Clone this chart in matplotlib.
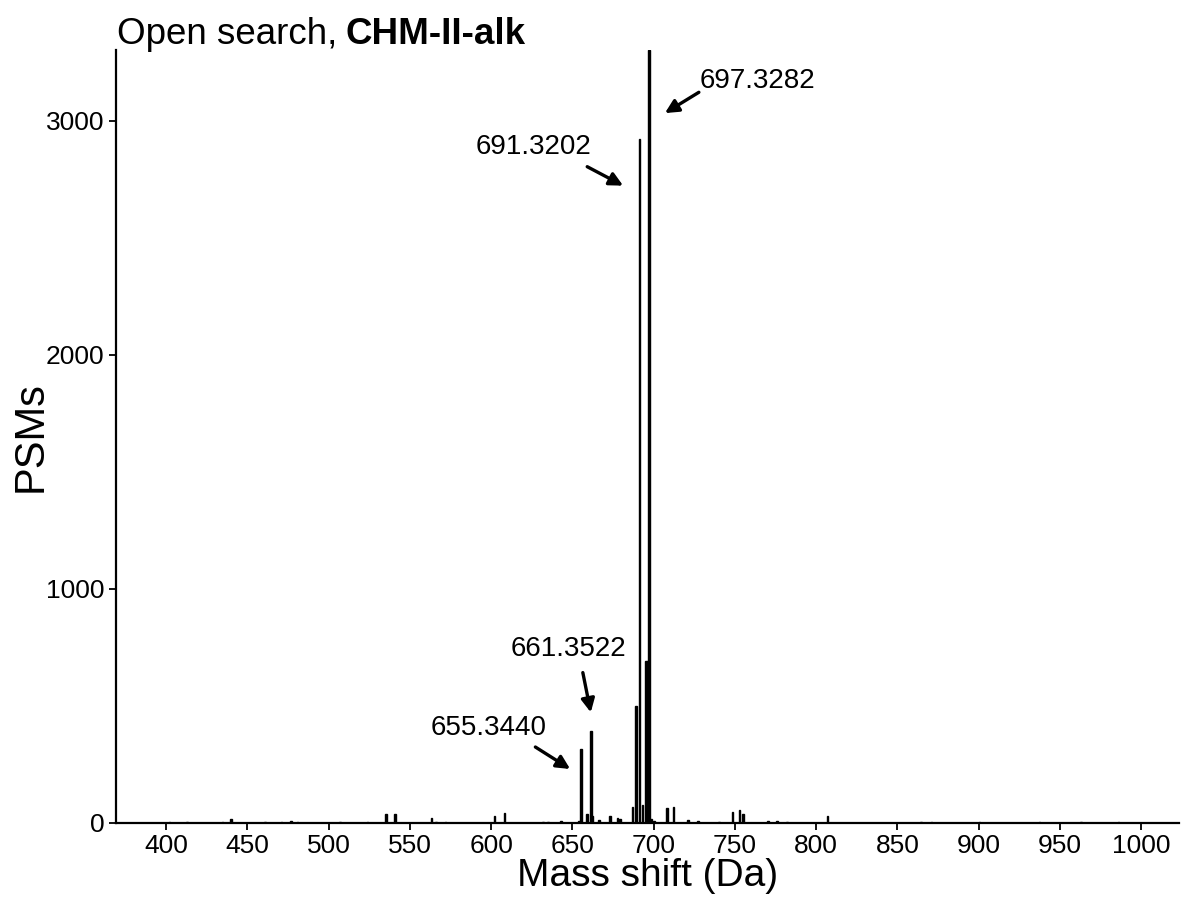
import matplotlib.pyplot as plt

plt.rcParams['font.family'] = ['Liberation Sans', 'DejaVu Sans']

# mass shift bins (Da) and PSM counts
mass = [402, 412.8, 434.8, 440, 461, 471, 476.7, 480.8, 506.8, 524,
        535.2, 541, 563.2, 566.2, 572, 602, 608.3, 632, 635, 643,
        654, 655.3, 659, 661.3, 662.3, 666.5, 673, 677.8, 679.2,
        687, 689.3, 691.3, 693.2, 695.3, 696.3, 697.3, 698.5, 700.2,
        708, 712.2, 721.3, 727.4, 740, 748.6, 752.8, 755,
        770.4, 775.7, 782, 807, 864.6, 870.9, 900.5, 937.5, 963, 986]
psms = [3, 3, 4, 15, 3, 3, 6, 3, 3, 3,
        36, 36, 19, 4, 3, 29, 39, 3, 3, 5,
        8, 314, 38, 392, 30, 12, 30, 20, 15,
        65, 500, 2920, 77, 690, 690, 3300, 15, 5,
        62, 67, 12, 6, 4, 47, 53, 38,
        6, 5, 4, 28, 3, 4, 3, 3, 3, 3]

# labelled peaks: text, arrow head, arrow tail, text centre (data units)
labels = ["697.3282", "691.3202", "661.3522", "655.3440"]
head = [(706.9, 3032), (681.2, 2722), (661.3, 471), (648.6, 229)]
tail = [(727.8, 3121), (659.1, 2803), (656.4, 641), (627.2, 323)]
text_pos = [(763.7, 3168), (626.0, 2887), (647.8, 743), (598.4, 403)]

fig = plt.figure(figsize=(11.81, 9), dpi=100)
ax = fig.add_axes([0.098, 0.086, 0.9, 0.858])

ax.bar(mass, psms, width=1.0, color='black', edgecolor='black', linewidth=1.0)

for lab, h, t, p in zip(labels, head, tail, text_pos):
    ax.text(p[0], p[1], lab, fontsize=20, ha='center', va='center')
    ax.annotate("", xy=h, xytext=t,
                arrowprops=dict(arrowstyle='-|>', color='black', lw=2.4,
                                mutation_scale=20, shrinkA=0, shrinkB=0))

ax.set_xlim(369, 1023)
ax.set_ylim(0, 3300)
ax.set_xticks(range(400, 1001, 50))
ax.set_yticks([0, 1000, 2000, 3000])
ax.tick_params(labelsize=19, length=5, width=1.3, pad=3, color='black', labelcolor='black')
for s in ['top', 'right']:
    ax.spines[s].set_visible(False)
for s in ['left', 'bottom']:
    ax.spines[s].set_linewidth(1.6)

ax.set_xlabel("Mass shift (Da)", fontsize=28, labelpad=0)
ax.set_ylabel("PSMs", fontsize=30, labelpad=-3)

# title: plain part then bold part
t1 = fig.text(0.099, 0.951, "Open search,", fontsize=26.5, va='baseline', ha='left')
fig.canvas.draw()
bb = t1.get_window_extent()
fig.text((bb.x1 + 8) / fig.bbox.width, 0.951, "CHM-II-alk", fontsize=26.5,
         fontweight='bold', va='baseline', ha='left')

fig.savefig("out.png", dpi=100)
